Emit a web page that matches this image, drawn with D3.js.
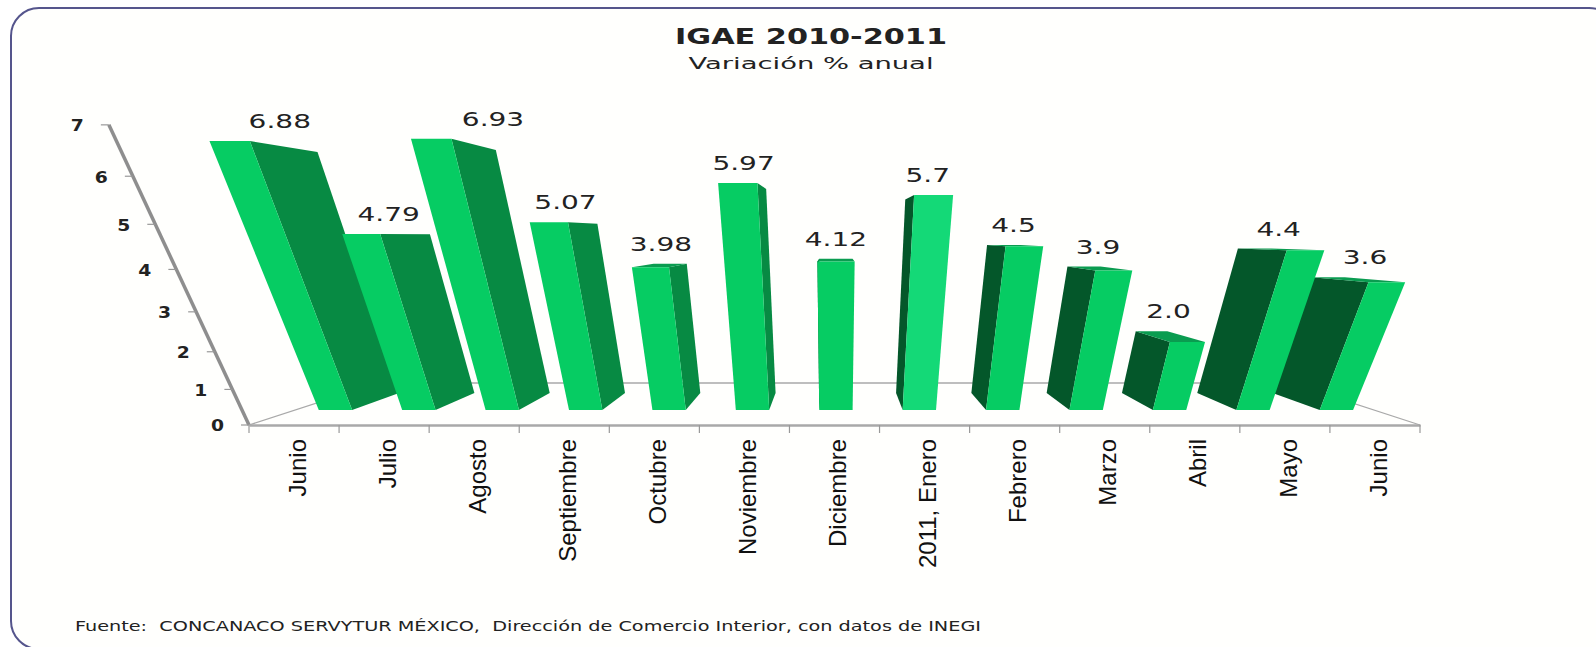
<!DOCTYPE html>
<html>
<head>
<meta charset="utf-8">
<script src="https://cdn.jsdelivr.net/npm/d3@7"></script>
<style>
  body { margin: 0; background: #fff; }
  svg { display: block; }
  text { fill: #222; font-family: "DejaVu Sans", sans-serif; white-space: pre; }
</style>
</head>
<body>
<div id="vis"></div>
<script>
const categories = ["Junio", "Julio", "Agosto", "Septiembre", "Octubre", "Noviembre", "Diciembre",
  "2011, Enero", "Febrero", "Marzo", "Abril", "Mayo", "Junio"];
const values = [6.88, 4.79, 6.93, 5.07, 3.98, 5.97, 4.12, 5.7, 4.5, 3.9, 2.0, 4.4, 3.6];
const valueLabels = ["6.88", "4.79", "6.93", "5.07", "3.98", "5.97", "4.12", "5.7", "4.5", "3.9", "2.0", "4.4", "3.6"];
const yTicks = [0, 1, 2, 3, 4, 5, 6, 7];

const width = 1596, height = 647;

// perspective: two vanishing points, one for bar height, one for depth
const vpHeight = { x: 835, y: 1680 };
const vpDepth = { x: 835, y: 235 };
const floorY = 425;
const depth = { barFront: 0.0855, barBack: 0.2025, floorBack: 0.284 };

const x = d3.scaleBand().domain(d3.range(categories.length)).range([249, 1420]);
const barX = d3.scaleBand().domain(x.domain()).range([252, 1420]).paddingInner(0.6).paddingOuter(0.25);
const y = d3.scaleLinear().domain([0, 7]).range([0, -0.193]);

function project(px, v, u) {
  const t = y(v), w = 1 + t + u;
  return [(px + t * vpHeight.x + u * vpDepth.x) / w, (floorY + t * vpHeight.y + u * vpDepth.y) / w];
}

const svg = d3.select("#vis").append("svg").attr("width", width).attr("height", height);
const line = d3.line().curve(d3.curveLinearClosed);

// frame, runs off the right and bottom edges
svg.append("rect").attr("x", 11).attr("y", 8).attr("width", 1606).attr("height", 641).attr("rx", 28)
  .attr("fill", "#fffffd").attr("stroke", "#55558c").attr("stroke-width", 2);

// titles
svg.append("text").attr("x", 811).attr("y", 44).attr("text-anchor", "middle")
  .attr("font-size", 21).attr("font-weight", "bold")
  .attr("textLength", 272).attr("lengthAdjust", "spacingAndGlyphs").text("IGAE 2010-2011");
svg.append("text").attr("x", 811).attr("y", 69).attr("text-anchor", "middle")
  .attr("font-size", 16)
  .attr("textLength", 245).attr("lengthAdjust", "spacingAndGlyphs").text("Variación % anual");
svg.append("text").attr("x", 75).attr("y", 631)
  .attr("font-size", 14.5)
  .attr("textLength", 906).attr("lengthAdjust", "spacingAndGlyphs")
  .text("Fuente:  CONCANACO SERVYTUR MÉXICO,  Dirección de Comercio Interior, con datos de INEGI");

// floor lines
const [x0, x1] = x.range();
svg.append("path")
  .attr("d", d3.line()([project(x0, 0, 0), project(x0, 0, depth.floorBack), project(x1, 0, depth.floorBack), project(x1, 0, 0)]))
  .attr("fill", "none").attr("stroke", "#a9a9a9").attr("stroke-width", 1.3);

// y axis
svg.append("path").attr("d", d3.line()([project(x0, 0, 0), project(x0, 7, 0)]))
  .attr("stroke", "#8e8e8e").attr("stroke-width", 3.5).attr("fill", "none");
const yTick = svg.append("g").selectAll("g").data(yTicks).join("g")
  .attr("transform", d => `translate(${project(x0, d, 0)})`);
yTick.append("line").attr("x1", -8).attr("x2", 0)
  .attr("stroke", "#999").attr("stroke-width", 1.2);
yTick.append("text").attr("x", 0).attr("dy", "0.36em").attr("text-anchor", "end")
  .attr("transform", "translate(-25,1) scale(1.25,1)")
  .attr("font-size", 15).attr("font-weight", "bold").text(d => d);

// x axis: ticks on the band edges, labels on the centres
const xAxis = svg.append("g").attr("transform", `translate(0,${floorY})`)
  .call(d3.axisBottom(x).tickSize(0).tickFormat(i => categories[i]));
xAxis.select(".domain").attr("stroke", "#a9a9a9").attr("stroke-width", 2.5);
xAxis.selectAll("text")
  .style("font-family", '"Liberation Sans", sans-serif')
  .style("font-size", "24px").style("fill", "#111")
  .attr("text-anchor", "end").attr("dy", "0.36em").attr("x", 0).attr("y", 0)
  .attr("transform", "translate(3,14) rotate(-90) scale(1,1)");
xAxis.selectAll(".edge").data(d3.range(categories.length + 1)).join("line").attr("class", "edge")
  .attr("x1", i => x0 + i * x.step()).attr("x2", i => x0 + i * x.step())
  .attr("y1", 0).attr("y2", 8).attr("stroke", "#999").attr("stroke-width", 1.2);

// bars: farthest from the vanishing point first so nearer ones overlap them
const centre = vpDepth.x;
const bars = d3.range(values.length).map(i => ({
  i, v: values[i], l: barX(i), r: barX(i) + barX.bandwidth(),
  mid: barX(i) + barX.bandwidth() / 2
})).sort((a, b) => d3.descending(Math.abs(a.mid - centre), Math.abs(b.mid - centre)));

const g = svg.append("g").selectAll("g").data(bars).join("g");
const { barFront: f, barBack: b } = depth;

// side face (whichever one can be seen)
g.append("path")
  .attr("d", d => {
    const e = d.mid < centre ? d.r : d.l;
    return line([project(e, 0, f), project(e, 0, b), project(e, d.v, b), project(e, d.v, f)]);
  })
  .attr("fill", d => d.mid < centre ? "#078a43" : "#04572a");

// top face, only seen when the bar ends below the horizon
g.filter(d => project(d.l, d.v, b)[1] < project(d.l, d.v, f)[1]).append("path")
  .attr("d", d => line([project(d.l, d.v, f), project(d.r, d.v, f), project(d.r, d.v, b), project(d.l, d.v, b)]))
  .attr("fill", "#0a9c50");

// front face
g.append("path")
  .attr("d", d => line([project(d.l, 0, f), project(d.r, 0, f), project(d.r, d.v, f), project(d.l, d.v, f)]))
  .attr("fill", d => categories[d.i] === "2011, Enero" ? "#14d977" : "#06cc63");

// value labels sit over the middle of the top face; a few were moved by hand in the original
const labelShift = { 0: 13, 2: 37, 12: 9 };
g.append("text")
  .attr("text-anchor", "middle")
  .attr("transform", d => {
    const [px] = project(d.mid, d.v, (f + b) / 2);
    const py = Math.min(project(d.l, d.v, f)[1], project(d.l, d.v, b)[1]);
    return `translate(${px + (labelShift[d.i] || 0)},${py - 13}) scale(1.4,1)`;
  })
  .attr("font-size", 20).text(d => valueLabels[d.i]);
</script>
</body>
</html>
